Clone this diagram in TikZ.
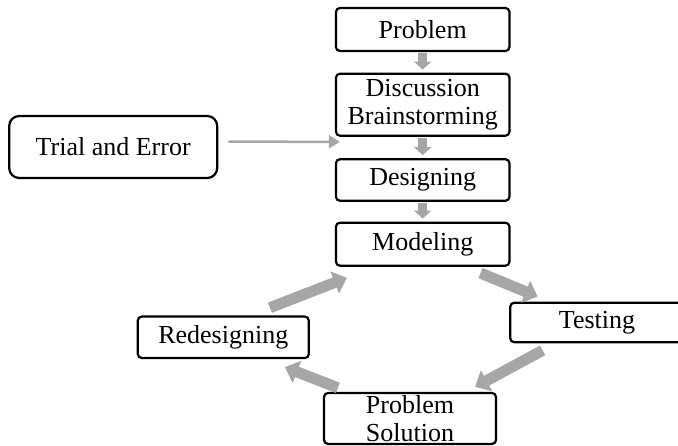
\documentclass[tikz,border=0pt]{standalone}
\usepackage{fontspec}
\setmainfont{Liberation Serif}
\usetikzlibrary{arrows.meta}
\definecolor{flowgray}{RGB}{166,166,166}
\tikzset{
  stage/.style={draw, line width=2.2pt, rounded corners=4pt, inner sep=0pt,
    minimum width=173.5pt, minimum height=43pt, align=center,
    font=\fontsize{26}{27.5}\selectfont},
  flow/.style={draw=flowgray, line width=9pt, -{Triangle[length=8pt,width=17pt]}},
  bigflow/.style={draw=flowgray, line width=11pt, -{Triangle[length=13pt,width=23pt]}},
  thinflow/.style={draw=flowgray, line width=2.5pt, -{Triangle[length=11pt,width=13pt]}}
}
\begin{document}
\begin{tikzpicture}[x=1pt, y=-1pt]
\useasboundingbox (0,0) rectangle (678,446);

\node[stage] (problem) at (422.7,29.5) {Problem};
\node[stage, minimum height=62pt] (discuss) at (422.7,104.7) {Discussion\\Brainstorming};
\node[stage, minimum height=41.5pt] (design) at (422.7,180) {Designing};
\node[stage] (model) at (422.7,244.2) {Modeling};
\node[stage, minimum width=208pt, minimum height=62pt, rounded corners=10pt] (trial) at (113.2,147) {Trial and Error};
\node[stage, minimum height=39.5pt] (testing) at (597,322.5) {Testing};
\node[stage, minimum width=171pt, minimum height=41.5pt] (redesign) at (223.3,337.3) {Redesigning};
\node[stage, minimum width=172pt, minimum height=51pt] (solution) at (410,418.5) {Problem\\Solution};

\foreach \a/\b in {problem/discuss, discuss/design, design/model}
{
    \draw[flow] ([yshift=-1pt]\a.south) -- ([yshift=3pt]\b.north);
}

\draw[thinflow] ([xshift=10pt,yshift=5.3pt]trial.east) -- ([xshift=5pt,yshift=-5pt]discuss.south west);

\draw[bigflow] ([xshift=-30pt,yshift=-6.3pt]model.south east) -- ([xshift=28.5pt,yshift=5pt]testing.north west);
\draw[bigflow] ([xshift=33.5pt,yshift=-7pt]testing.south west) -- ([xshift=-22pt,yshift=5pt]solution.north east);
\draw[bigflow] ([xshift=15pt,yshift=4pt]solution.north west) -- ([xshift=-25pt,yshift=-8pt]redesign.south east);
\draw[bigflow] ([xshift=-40pt,yshift=7.7pt]redesign.north east) -- ([xshift=12pt,yshift=-11pt]model.south west);
\end{tikzpicture}
\end{document}
